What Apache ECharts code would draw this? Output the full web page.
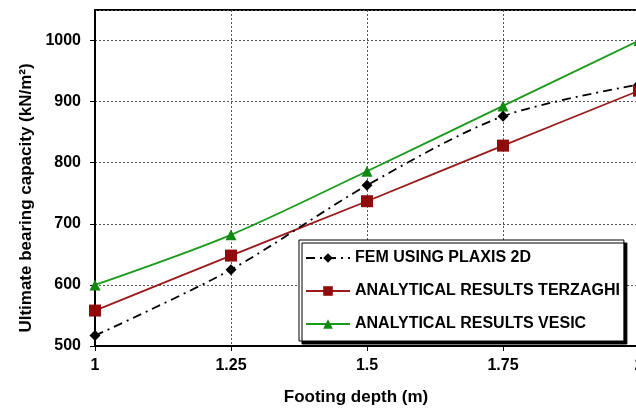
<!DOCTYPE html>
<html>
<head>
<meta charset="utf-8">
<script src="https://cdn.jsdelivr.net/npm/echarts@6/dist/echarts.min.js"></script>
<style>
  html, body { margin: 0; padding: 0; background: #fff; }
  #chart { width: 636px; height: 408px; }
</style>
</head>
<body>
<div id="chart"></div>
<script>
const depths = [1, 1.25, 1.5, 1.75, 2];
const femPlaxis = [517, 625, 763, 876, 928];
const terzaghi = [558, 648, 737, 828, 918];
const vesic = [600, 682, 786, 893, 1000];
const seriesNames = ['FEM USING PLAXIS 2D', 'ANALYTICAL RESULTS TERZAGHI', 'ANALYTICAL RESULTS VESIC'];

const font = 'Liberation Sans, Arial, sans-serif';
const pairs = vals => depths.map((d, i) => [d, vals[i]]);

const chart = echarts.init(document.getElementById('chart'));

chart.setOption({
    animation: false,
    backgroundColor: '#fff',
    grid: {
        left: 95, top: 10, right: -3, bottom: 62,
        outerBoundsMode: 'none',
        show: true, borderColor: '#000', borderWidth: 2
    },
    legend: {
        orient: 'vertical',
        left: 299, top: 240,
        padding: [10, 4, 9, 6],
        itemGap: 17,
        itemWidth: 44, itemHeight: 12,
        backgroundColor: '#fff',
        borderColor: '#000', borderWidth: 1,
        shadowColor: '#000', shadowOffsetX: 3, shadowOffsetY: 3, shadowBlur: 0,
        textStyle: { fontFamily: font, fontWeight: 'bold', fontSize: 16, color: '#000' },
        data: seriesNames
    },
    xAxis: {
        type: 'value',
        min: 1, max: 2, interval: 0.25,
        name: 'Footing depth (m)',
        nameLocation: 'middle',
        nameGap: 43,
        nameTextStyle: { fontFamily: font, fontWeight: 'bold', fontSize: 17, color: '#000', padding: [0, 22, 0, 0] },
        axisLine: { show: true, lineStyle: { color: '#000', width: 2 } },
        axisTick: { show: true, length: 5, lineStyle: { color: '#000' } },
        axisLabel: { fontFamily: font, fontWeight: 'bold', fontSize: 16, color: '#000', margin: 12, showMaxLabel: true },
        splitLine: { show: true, lineStyle: { color: '#555', type: [2, 2], width: 1 } }
    },
    yAxis: {
        type: 'value',
        min: 500, max: 1050, interval: 100,
        name: 'Ultimate bearing capacity (kN/m²)',
        nameLocation: 'middle',
        nameGap: 60,
        nameTextStyle: { fontFamily: font, fontWeight: 'bold', fontSize: 17, color: '#000', padding: [0, 40, 0, 0] },
        axisLine: { show: true, lineStyle: { color: '#000', width: 2 } },
        axisTick: { show: true, length: 5, lineStyle: { color: '#000' } },
        axisLabel: {
            fontFamily: font, fontWeight: 'bold', fontSize: 16, color: '#000', margin: 14,
            showMaxLabel: false,
            formatter: v => String(v)
        },
        splitLine: { show: true, lineStyle: { color: '#555', type: [2, 2], width: 1 } }
    },
    series: [
        {
            name: seriesNames[0],
            type: 'line',
            smooth: 0.3,
            data: pairs(femPlaxis),
            symbol: 'diamond', symbolSize: 11,
            itemStyle: { color: '#000' },
            lineStyle: { color: '#000', width: 1.8, type: [9, 5, 2, 5] },
            z: 3
        },
        {
            name: seriesNames[1],
            type: 'line',
            smooth: 0.3,
            data: pairs(terzaghi),
            symbol: 'rect', symbolSize: 12,
            itemStyle: { color: '#8f0c0c' },
            lineStyle: { color: '#9a1a1a', width: 1.8 },
            z: 2
        },
        {
            name: seriesNames[2],
            type: 'line',
            smooth: 0.3,
            data: pairs(vesic),
            symbol: 'triangle', symbolSize: 11,
            itemStyle: { color: '#128a12' },
            lineStyle: { color: '#1a9a1a', width: 1.8 },
            z: 2
        }
    ]
});

window.addEventListener('resize', () => chart.resize());
</script>
</body>
</html>
